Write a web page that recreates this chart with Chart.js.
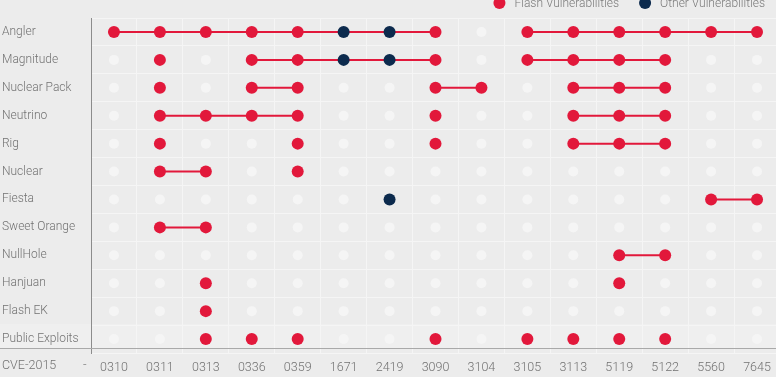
<!DOCTYPE html>
<html>
<head>
<meta charset="utf-8">
<script src="https://cdn.jsdelivr.net/npm/chart.js@4.4.1/dist/chart.umd.min.js"></script>
<style>
  html, body { margin: 0; padding: 0; background: #ececec; overflow: hidden; }
  #wrap { position: relative; width: 776px; height: 377px; overflow: hidden; }
  #chart { position: absolute; left: 0; top: 0; }
</style>
</head>
<body>
<div id="wrap"><canvas id="chart" width="786" height="377"></canvas></div>
<script>
const kits = ['Angler', 'Magnitude', 'Nuclear Pack', 'Neutrino', 'Rig', 'Nuclear', 'Fiesta',
              'Sweet Orange', 'NullHole', 'Hanjuan', 'Flash EK', 'Public Exploits'];
const cves = ['0310', '0311', '0313', '0336', '0359', '1671', '2419', '3090',
              '3104', '3105', '3113', '5119', '5122', '5560', '7645'];

// one char per CVE column: F = flash vuln, O = other vuln, . = not used
const marks = [
  'FFFFFOOF.FFFFFF', // Angler
  '.F.FFOOF.FFFF..', // Magnitude
  '.F.FF..FF.FFF..', // Nuclear Pack
  '.FFFF..F..FFF..', // Neutrino
  '.F..F..F..FFF..', // Rig
  '.FF.F..........', // Nuclear
  '......O......FF', // Fiesta
  '.FF............', // Sweet Orange
  '...........FF..', // NullHole
  '..F........F...', // Hanjuan
  '..F............', // Flash EK
  '..FFF..F.FFFF..'  // Public Exploits
];

// linked runs: [kit, first cve, last cve]
const runs = [
  ['Angler', '0310', '3090'], ['Angler', '3105', '7645'],
  ['Magnitude', '0336', '3090'], ['Magnitude', '3105', '5122'],
  ['Nuclear Pack', '0336', '0359'], ['Nuclear Pack', '3090', '3104'], ['Nuclear Pack', '3113', '5122'],
  ['Neutrino', '0311', '0359'], ['Neutrino', '3113', '5122'],
  ['Rig', '3113', '5122'],
  ['Nuclear', '0311', '0313'],
  ['Fiesta', '5560', '7645'],
  ['Sweet Orange', '0311', '0313'],
  ['NullHole', '5119', '5122']
];

const RED = '#e2183b';
const NAVY = '#0c2a4d';
const TEXT = '#727272';

function pointsOf(code) {
  const pts = [];
  marks.forEach((row, i) => {
    for (let j = 0; j < cves.length; j++) {
      if (code === '*' || row[j] === code) pts.push({ x: cves[j], y: kits[i] });
    }
  });
  return pts;
}

const lineSets = runs.map(([kit, from, to]) => ({
  label: '',
  data: cves.slice(cves.indexOf(from), cves.indexOf(to) + 1).map(c => ({ x: c, y: kit })),
  borderColor: RED,
  borderWidth: 2,
  pointRadius: 0,
  showLine: true
}));

// bottom rule, axis caption and the legend (top right, half cut off like the source)
const extras = {
  id: 'extras',
  beforeDraw(chart) {
    // slightly lighter band behind the last row
    const ctx = chart.ctx;
    ctx.save();
    ctx.fillStyle = '#efefef';
    ctx.fillRect(0, 324, chart.width, 24);
    ctx.restore();
  },
  afterDraw(chart) {
    const ctx = chart.ctx;
    ctx.save();
    ctx.strokeStyle = '#a9a9a9';
    ctx.lineWidth = 1;
    ctx.beginPath();
    ctx.moveTo(0, 348.5);
    ctx.lineTo(chart.width, 348.5);
    ctx.stroke();

    const y = 366;
    ctx.fillStyle = TEXT;
    ctx.font = '300 12.5px Roboto';
    ctx.textBaseline = 'middle';
    ctx.textAlign = 'left';
    ctx.fillText('CVE-2015', 2, y);
    ctx.fillText('-', 83, y);

    // legend
    ctx.font = '300 12px Roboto';
    const items = chart.data.datasets.filter(d => d.label !== '');
    let x = 765;
    for (let i = items.length - 1; i >= 0; i--) {
      const w = ctx.measureText(items[i].label).width;
      x -= w;
      ctx.fillStyle = '#7a7a7a';
      ctx.fillText(items[i].label, x, 4);
      ctx.fillStyle = items[i].pointBackgroundColor;
      ctx.beginPath();
      ctx.arc(x - 15, 3, 6, 0, Math.PI * 2);
      ctx.fill();
      x -= 41;
    }
    ctx.restore();
  }
};

Chart.defaults.font.family = 'Roboto';
Chart.defaults.font.weight = '300';

new Chart(document.getElementById('chart'), {
  type: 'line',
  data: {
    datasets: [
      { label: 'Flash Vulnerabilities', data: pointsOf('F'), showLine: false,
        pointRadius: 6, pointBackgroundColor: RED, pointBorderWidth: 0 },
      { label: 'Other Vulnerabilities', data: pointsOf('O'), showLine: false,
        pointRadius: 6, pointBackgroundColor: NAVY, pointBorderWidth: 0 },
      ...lineSets,
      { label: '', data: pointsOf('*'), showLine: false,
        pointRadius: 5, pointBackgroundColor: '#f5f5f5', pointBorderWidth: 0 }
    ]
  },
  options: {
    responsive: false,
    animation: false,
    events: [],
    layout: { padding: { left: 2, right: 0, top: 18, bottom: 0 } },
    plugins: {
      tooltip: { enabled: false },
      legend: { display: false }
    },
    scales: {
      x: {
        type: 'category',
        labels: cves,
        offset: true,
        grid: { offset: true, color: '#f5f5f5', drawTicks: false },
        border: { display: false },
        ticks: { color: TEXT, font: { size: 12.5 }, padding: 7, maxRotation: 0, autoSkip: false },
        afterFit: s => { s.height = 24; }
      },
      y: {
        type: 'category',
        labels: kits,
        offset: true,
        grid: { offset: true, color: '#f5f5f5', drawTicks: false },
        border: { color: '#8c8c8c', width: 1 },
        ticks: { color: TEXT, font: { size: 12 }, crossAlign: 'far', padding: 0, autoSkip: false },
        afterFit: s => { s.width = 89; }
      }
    }
  },
  plugins: [extras]
});
</script>
</body>
</html>
